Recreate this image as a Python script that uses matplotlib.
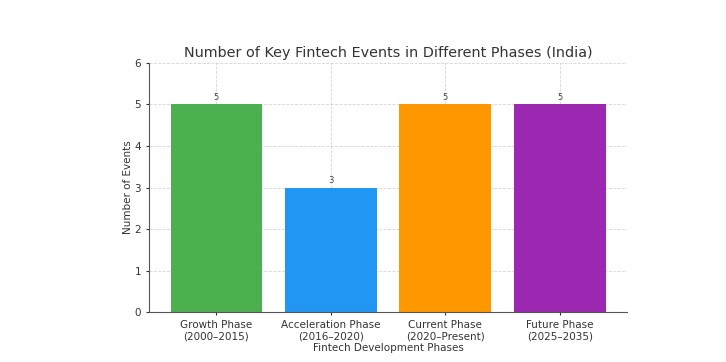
import matplotlib
matplotlib.use("Agg")
import matplotlib.pyplot as plt

categories = ["Growth Phase\n(2000–2015)", "Acceleration Phase\n(2016–2020)",
              "Current Phase\n(2020–Present)", "Future Phase\n(2025–2035)"]
values = [5, 3, 5, 5]
colors = ["#4CAF50", "#2196F3", "#FF9800", "#9C27B0"]

fig = plt.figure(figsize=(7.26, 3.62), dpi=100)
ax = fig.add_axes([0.205, 0.138, 0.659, 0.688])
bars = ax.bar(categories, values, color=colors, width=0.8, zorder=2)
for b, v in zip(bars, values):
    ax.text(b.get_x() + b.get_width() / 2, v + 0.05, str(v), ha="center", va="bottom",
            fontsize=6, color="#444444")
ax.set_ylim(0, 6)
ax.set_yticks(range(0, 7))
ax.grid(True, linestyle="--", linewidth=0.6, color="#888888", alpha=0.35, zorder=3)
for s in ["top", "right"]:
    ax.spines[s].set_visible(False)
for s in ["left", "bottom"]:
    ax.spines[s].set_color("#555555")
ax.tick_params(axis="both", labelsize=7.5, colors="#333333", length=2)
ax.set_title("Number of Key Fintech Events in Different Phases (India)", fontsize=10.4, color="#333333", pad=4)
ax.set_xlabel("Fintech Development Phases", fontsize=7.5, color="#333333", labelpad=1)
ax.set_ylabel("Number of Events", fontsize=7.5, color="#333333", labelpad=1)
fig.savefig("out.png", dpi=100)
